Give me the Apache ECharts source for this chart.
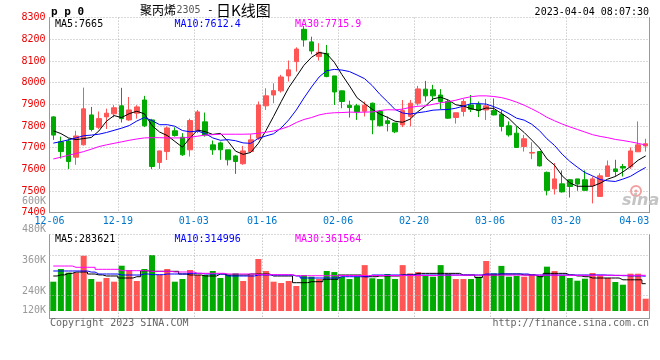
<!DOCTYPE html>
<html><head><meta charset="utf-8">
<script src="https://cdn.jsdelivr.net/npm/echarts@6/dist/echarts.min.js"></script>
<style>html,body{margin:0;padding:0;background:#fff}#c{width:660px;height:360px}</style>
</head><body><div id="c"></div>
<script>
const dates = ['12-06','12-07','12-08','12-09','12-12','12-13','12-14','12-15','12-16','12-19','12-20','12-21','12-22','12-23','12-26','12-27','12-28','12-29','12-30',
'01-03','01-04','01-05','01-06','01-09','01-10','01-11','01-12','01-13','01-16','01-17','01-18','01-19','01-20','01-30','01-31',
'02-01','02-02','02-03','02-06','02-07','02-08','02-09','02-10','02-13','02-14','02-15','02-16','02-17','02-20','02-21','02-22','02-23','02-24','02-27','02-28',
'03-01','03-02','03-03','03-06','03-07','03-08','03-09','03-10','03-13','03-14','03-15','03-16','03-17','03-20','03-21','03-22','03-23','03-24','03-27','03-28','03-29','03-30','03-31',
'04-03'];
const labelDates = ['12-06','12-19','01-03','01-16','02-06','02-20','03-06','03-20','04-03'];
const gridDates = ['12-19','01-03','01-16','02-06','02-20','03-06','03-20'];

const opens = [7842,7727,7731,7656,7713,7851,7794,7842,7856,7893,7828,7859,7920,7828,7632,7682,7778,7748,7690,7778,7819,7713,7722,7690,7662,7626,7682,7744,7893,7943,7962,8031,8097,8246,8188,8120,8135,8031,7962,7896,7893,7868,7905,7867,7824,7814,7805,7844,7905,7970,7967,7943,7913,7839,7867,7897,7899,7874,7871,7854,7801,7767,7705,7675,7682,7586,7510,7533,7552,7556,7552,7524,7475,7567,7602,7613,7612,7681,7708];
const closes = [7758,7682,7636,7754,7879,7784,7834,7859,7884,7834,7874,7888,7801,7613,7685,7791,7756,7667,7825,7865,7758,7690,7690,7644,7636,7685,7736,7897,7939,7963,8026,8059,8155,8197,8146,8140,8028,7957,7913,7885,7865,7896,7828,7801,7811,7773,7871,7905,7971,7939,7939,7913,7836,7861,7913,7877,7871,7893,7851,7798,7759,7701,7741,7678,7616,7503,7556,7496,7521,7532,7503,7556,7570,7616,7590,7606,7685,7713,7718];
const lows = [7736,7650,7602,7621,7710,7775,7786,7786,7840,7816,7824,7834,7795,7602,7602,7643,7751,7662,7659,7767,7751,7667,7644,7618,7579,7621,7682,7736,7874,7905,7954,8005,8051,8166,8131,8102,8025,7897,7882,7839,7828,7844,7762,7798,7775,7767,7795,7798,7895,7913,7916,7877,7833,7811,7844,7864,7841,7828,7849,7775,7751,7700,7682,7647,7613,7480,7484,7493,7470,7501,7503,7443,7475,7567,7567,7567,7602,7681,7682];
const highs = [7845,7751,7742,7778,7977,7888,7867,7880,7896,7976,7934,7896,7939,7833,7686,7798,7794,7767,7834,7874,7862,7733,7728,7690,7667,7708,7762,7913,7974,7997,8036,8102,8163,8261,8212,8182,8174,8031,7963,7917,7902,7913,7908,7874,7844,7814,7920,7920,7985,8008,7990,7970,7920,7861,7924,7943,7913,7925,7927,7874,7821,7798,7759,7725,7682,7590,7629,7595,7555,7556,7595,7567,7582,7641,7644,7625,7701,7821,7741];

const ma5 = [7778,7765,7745,7737,7742,7747,7777,7822,7848,7839,7857,7868,7856,7802,7772,7756,7729,7702,7745,7781,7774,7761,7766,7729,7684,7669,7678,7720,7779,7844,7912,7977,8028,8080,8117,8139,8133,8094,8037,7985,7930,7903,7877,7855,7840,7822,7817,7832,7866,7892,7925,7933,7920,7898,7892,7880,7872,7883,7881,7858,7834,7800,7770,7735,7699,7648,7619,7570,7538,7522,7522,7522,7536,7555,7567,7588,7613,7642,7662];
const ma10 = [7721,7728,7736,7745,7755,7758,7762,7770,7780,7790,7802,7823,7839,7825,7806,7806,7799,7779,7773,7777,7765,7745,7734,7737,7732,7722,7720,7743,7754,7764,7791,7828,7874,7929,7980,8026,8055,8061,8058,8051,8035,8018,7986,7946,7912,7876,7860,7855,7861,7866,7873,7875,7876,7882,7892,7903,7903,7901,7889,7875,7857,7836,7827,7808,7779,7741,7710,7670,7637,7610,7585,7570,7553,7547,7544,7555,7568,7589,7609];
const ma30 = [7648,7656,7665,7673,7682,7693,7705,7713,7720,7727,7734,7740,7745,7746,7746,7745,7745,7745,7748,7753,7758,7760,7762,7762,7762,7762,7763,7766,7771,7777,7786,7798,7816,7830,7839,7851,7858,7861,7862,7864,7863,7864,7865,7871,7875,7874,7878,7886,7891,7893,7900,7907,7912,7919,7928,7935,7939,7939,7936,7931,7922,7910,7896,7879,7861,7840,7824,7809,7796,7784,7772,7760,7752,7746,7738,7733,7727,7720,7712];

// volume, in thousands
const volumes = [273.7,322.9,308.6,308.6,374.5,284.1,273.7,288.0,273.7,335.7,319.0,276.4,322.9,377.2,299.6,322.9,273.7,284.1,319.0,299.6,299.6,315.2,288.0,299.6,306.2,276.4,299.6,361.7,315.2,273.7,268.6,276.4,257.0,299.6,293.0,284.1,315.2,
311,293,284,293,338,287,284,303.5,284,338,306,311,298,293,338,303.5,284,284,284,293,354,306,335,293,296,293,302,296,332,315,
298.5,288,277.5,285.3,307.4,298.5,288,272.5,262,304.7,304.7,207.7];
const volMa5 = [295.8,300,306,311,311.3,303.5,300,295.8,295.8,288,288,293,316,313.9,313.9,313.9,313.9,303.5,299.6,299.6,295.8,295.8,303.5,299.6,299.6,299.6,303.5,303.5,303.5,295.8,295.8,295.8,269.8,269.8,273.7,273.7,283,283,
299.6,299.6,299.6,293,293,295.8,295.8,295.8,300,300,306,306,306,306,306,306,299.6,299.6,290,300,300,303.5,303.5,303.5,299.6,299.6,293,306,306,306,300,296,293,288,288,288,288,281,281,281,266];
const volMa10 = [315.2,315.2,315.2,315.2,315.2,311,303.5,303.5,303.5,299.6,299.6,299.6,303.5,300.9,300.9,303.5,303.5,303.5,306.2,306.2,303.5,303.5,303.5,295.8,295.8,295.8,295.8,299.6,299.6,299.6,299.6,299.6,295.8,288,288,288,288,288,
293,293,293,293,299.6,299.6,299.6,299.6,299.6,299.6,299.6,299.6,299.6,299.6,299.6,299.6,299.6,299.6,299.6,303.5,303.5,303.5,303.5,303.5,303.5,299.6,299.6,299.6,299.6,299.6,299.6,299.6,299.6,300,300,299,298,297,296,296,295];
const volMa30 = [334.5,334.5,334.5,329.5,329.5,329.5,321.7,321.7,321.7,316.4,316.4,316.4,316.4,313.9,313.9,313.9,311.3,311.3,311.3,306.2,306.2,306.2,306.2,303.5,303.5,303.5,303.5,300.9,300.9,300.9,300.9,300.9,296.9,296.9,296.9,296.9,296.9,296.9,
297.5,297.5,297.5,297.5,297.5,297.5,297.5,297.5,297.5,297.5,297.5,297.5,297.5,299,299,299,299,299,299,299,299,299,299,299,299,299,299,299,299,298.5,298.5,298.5,298.5,298.5,298.5,298.5,298.5,298.5,298.5,298.5,298.5];

const priceMin = 7400, priceMax = 8300, priceStep = 100;
const volMin = 160, volMax = 456;           // thousands
const volGridValues = [376, 223];           // dotted guide lines of the volume panel
const volTickLabels = ['600K','480K','360K','240K','120K'];
const volTickY = [201, 229, 260.3, 291.3, 310.3];

const UP = '#ff5555', DOWN = '#00aa00';
const MONO = 'DejaVu Sans Mono';
const GRIDLINE = {color:'#b4b4b4', type:[1,2], width:1};
const BORDER = {color:'#999999', width:1};
const L = 49.5, R = 10.5;
const labelSet = new Set(labelDates), gridSet = new Set(gridDates);

const candle = dates.map((d,i)=>[opens[i], closes[i], lows[i], highs[i]]);
const volData = volumes.map((v,i)=>({value:v, itemStyle:{color: closes[i]>=opens[i]?UP:DOWN}}));

function txt(text, x, y, o){
  return {type:'text', silent:true, z:50, style:Object.assign({text, x, y, fontFamily:MONO, fontSize:10, fill:'#000', textAlign:'left', textVerticalAlign:'middle'}, o||{})};
}

const chart = echarts.init(document.getElementById('c'));
chart.setOption({
  animation:false,
  grid:[
    {left:L, right:R, top:17.6, height:195.1},
    {left:L, right:R, top:234.7, height:76.3},
    {left:L, right:R, top:234.7, height:83.8}
  ],
  xAxis:[
    {type:'category', gridIndex:0, data:dates, boundaryGap:true,
     axisLine:{show:true, lineStyle:BORDER}, axisTick:{show:false},
     axisLabel:{interval:(i,v)=>labelSet.has(v), margin:4, color:'#0077cc', fontFamily:MONO, fontSize:10,
       formatter:(v,i)=> (i===dates.length-1 ? '{e|'+v+'}' : '{n|'+v+'}'),
       rich:{n:{padding:[0,7.6,0,0], color:'#0077cc', fontFamily:MONO, fontSize:10},
             e:{padding:[0,23,0,0], color:'#0077cc', fontFamily:MONO, fontSize:10}}},
     splitLine:{show:true, interval:(i,v)=>gridSet.has(v), lineStyle:GRIDLINE}},
    {type:'category', gridIndex:1, data:dates, boundaryGap:true,
     axisLine:{show:false}, axisTick:{show:false}, axisLabel:{show:false}, splitLine:{show:false}},
    {type:'category', gridIndex:2, data:dates, boundaryGap:true,
     axisLine:{show:true, lineStyle:BORDER}, axisTick:{show:false}, axisLabel:{show:false},
     splitLine:{show:true, interval:(i,v)=>gridSet.has(v), lineStyle:GRIDLINE}}
  ],
  yAxis:[
    {type:'value', gridIndex:0, min:priceMin, max:priceMax, interval:priceStep,
     axisLine:{show:true, lineStyle:BORDER}, axisTick:{show:false},
     axisLabel:{color:'#ee0000', fontFamily:MONO, fontSize:10, margin:4, formatter:v=>String(v)},
     splitLine:{show:true, lineStyle:GRIDLINE}},
    {type:'value', gridIndex:0, position:'right', min:0, max:1,
     axisLine:{show:true, lineStyle:BORDER}, axisTick:{show:false}, axisLabel:{show:false}, splitLine:{show:false}},
    {type:'value', gridIndex:1, min:volMin, max:volMax,
     axisLine:{show:false}, axisTick:{show:false}, axisLabel:{show:false}, splitLine:{show:false}},
    {type:'value', gridIndex:2, min:0, max:1, interval:1,
     axisLine:{show:true, lineStyle:BORDER}, axisTick:{show:false}, axisLabel:{show:false},
     splitLine:{show:true, lineStyle:GRIDLINE}},
    {type:'value', gridIndex:2, position:'right', min:0, max:1,
     axisLine:{show:true, lineStyle:BORDER}, axisTick:{show:false}, axisLabel:{show:false}, splitLine:{show:false}}
  ],
  series:[
    {type:'candlestick', xAxisIndex:0, yAxisIndex:0, data:candle, barWidth:5, z:2,
     itemStyle:{color:UP, color0:DOWN, borderColor:UP, borderColor0:DOWN, borderWidth:1}},
    {type:'line', xAxisIndex:0, yAxisIndex:0, data:ma5, symbol:'none', z:3, lineStyle:{color:'#000000', width:1}},
    {type:'line', xAxisIndex:0, yAxisIndex:0, data:ma10, symbol:'none', z:3, lineStyle:{color:'#0000ff', width:1}},
    {type:'line', xAxisIndex:0, yAxisIndex:0, data:ma30, symbol:'none', z:3, lineStyle:{color:'#ff00ff', width:1}},
    {type:'line', xAxisIndex:1, yAxisIndex:2, data:[], symbol:'none', z:1,
     markLine:{silent:true, symbol:['none','none'], label:{show:false}, lineStyle:GRIDLINE,
       data:volGridValues.map(v=>({yAxis:v}))}},
    {type:'bar', xAxisIndex:1, yAxisIndex:2, data:volData, barWidth:6, z:2},
    {type:'line', xAxisIndex:1, yAxisIndex:2, data:volMa5, symbol:'none', step:'middle', z:3, lineStyle:{color:'#000000', width:1}},
    {type:'line', xAxisIndex:1, yAxisIndex:2, data:volMa10, symbol:'none', step:'middle', z:3, lineStyle:{color:'#0000ff', width:1}},
    {type:'line', xAxisIndex:1, yAxisIndex:2, data:volMa30, symbol:'none', step:'middle', z:3, lineStyle:{color:'#ff00ff', width:1}}
  ],
  graphic:[
    txt('p p 0', 51, 12, {fontWeight:'bold', fontSize:11}),
    txt('聚丙烯', 140, 10.5, {fontFamily:'Noto Sans CJK SC', fontSize:12}),
    txt('2305', 176.5, 10.5, {fill:'#555'}),
    txt('-', 207, 10.5, {fontSize:11}),
    txt('日K线图', 216, 10.5, {fontFamily:'Noto Sans CJK SC', fontSize:15}),
    txt('2023-04-04 08:07:30', 649, 12, {textAlign:'right'}),
    txt('MA5:7665', 55, 24.5),
    txt('MA10:7612.4', 174.5, 24.5, {fill:'#0000ff'}),
    txt('MA30:7715.9', 295, 24.5, {fill:'#ff00ff'}),
    txt('MA5:283621', 55, 239),
    txt('MA10:314996', 174.5, 239, {fill:'#0000ff'}),
    txt('MA30:361564', 295, 239, {fill:'#ff00ff'}),
    ...volTickLabels.map((t,k)=>txt(t, 46, volTickY[k], {textAlign:'right', fill:'#999'})),
    txt('Copyright 2023 SINA.COM', 50, 323, {fill:'#666'}),
    txt('http://finance.sina.com.cn', 649, 323, {textAlign:'right', fill:'#666'}),
    {type:'circle', silent:true, z:40, shape:{cx:636, cy:191, r:5}, style:{fill:'none', stroke:'#f2a0a0', lineWidth:2}},
    {type:'circle', silent:true, z:40, shape:{cx:636, cy:191, r:1.6}, style:{fill:'#f2a0a0'}},
    txt('sina', 622, 201, {fontFamily:'DejaVu Sans', fontStyle:'italic', fontWeight:'bold', fontSize:16, fill:'#c4c4c4'})
  ]
});
</script>
</body></html>
